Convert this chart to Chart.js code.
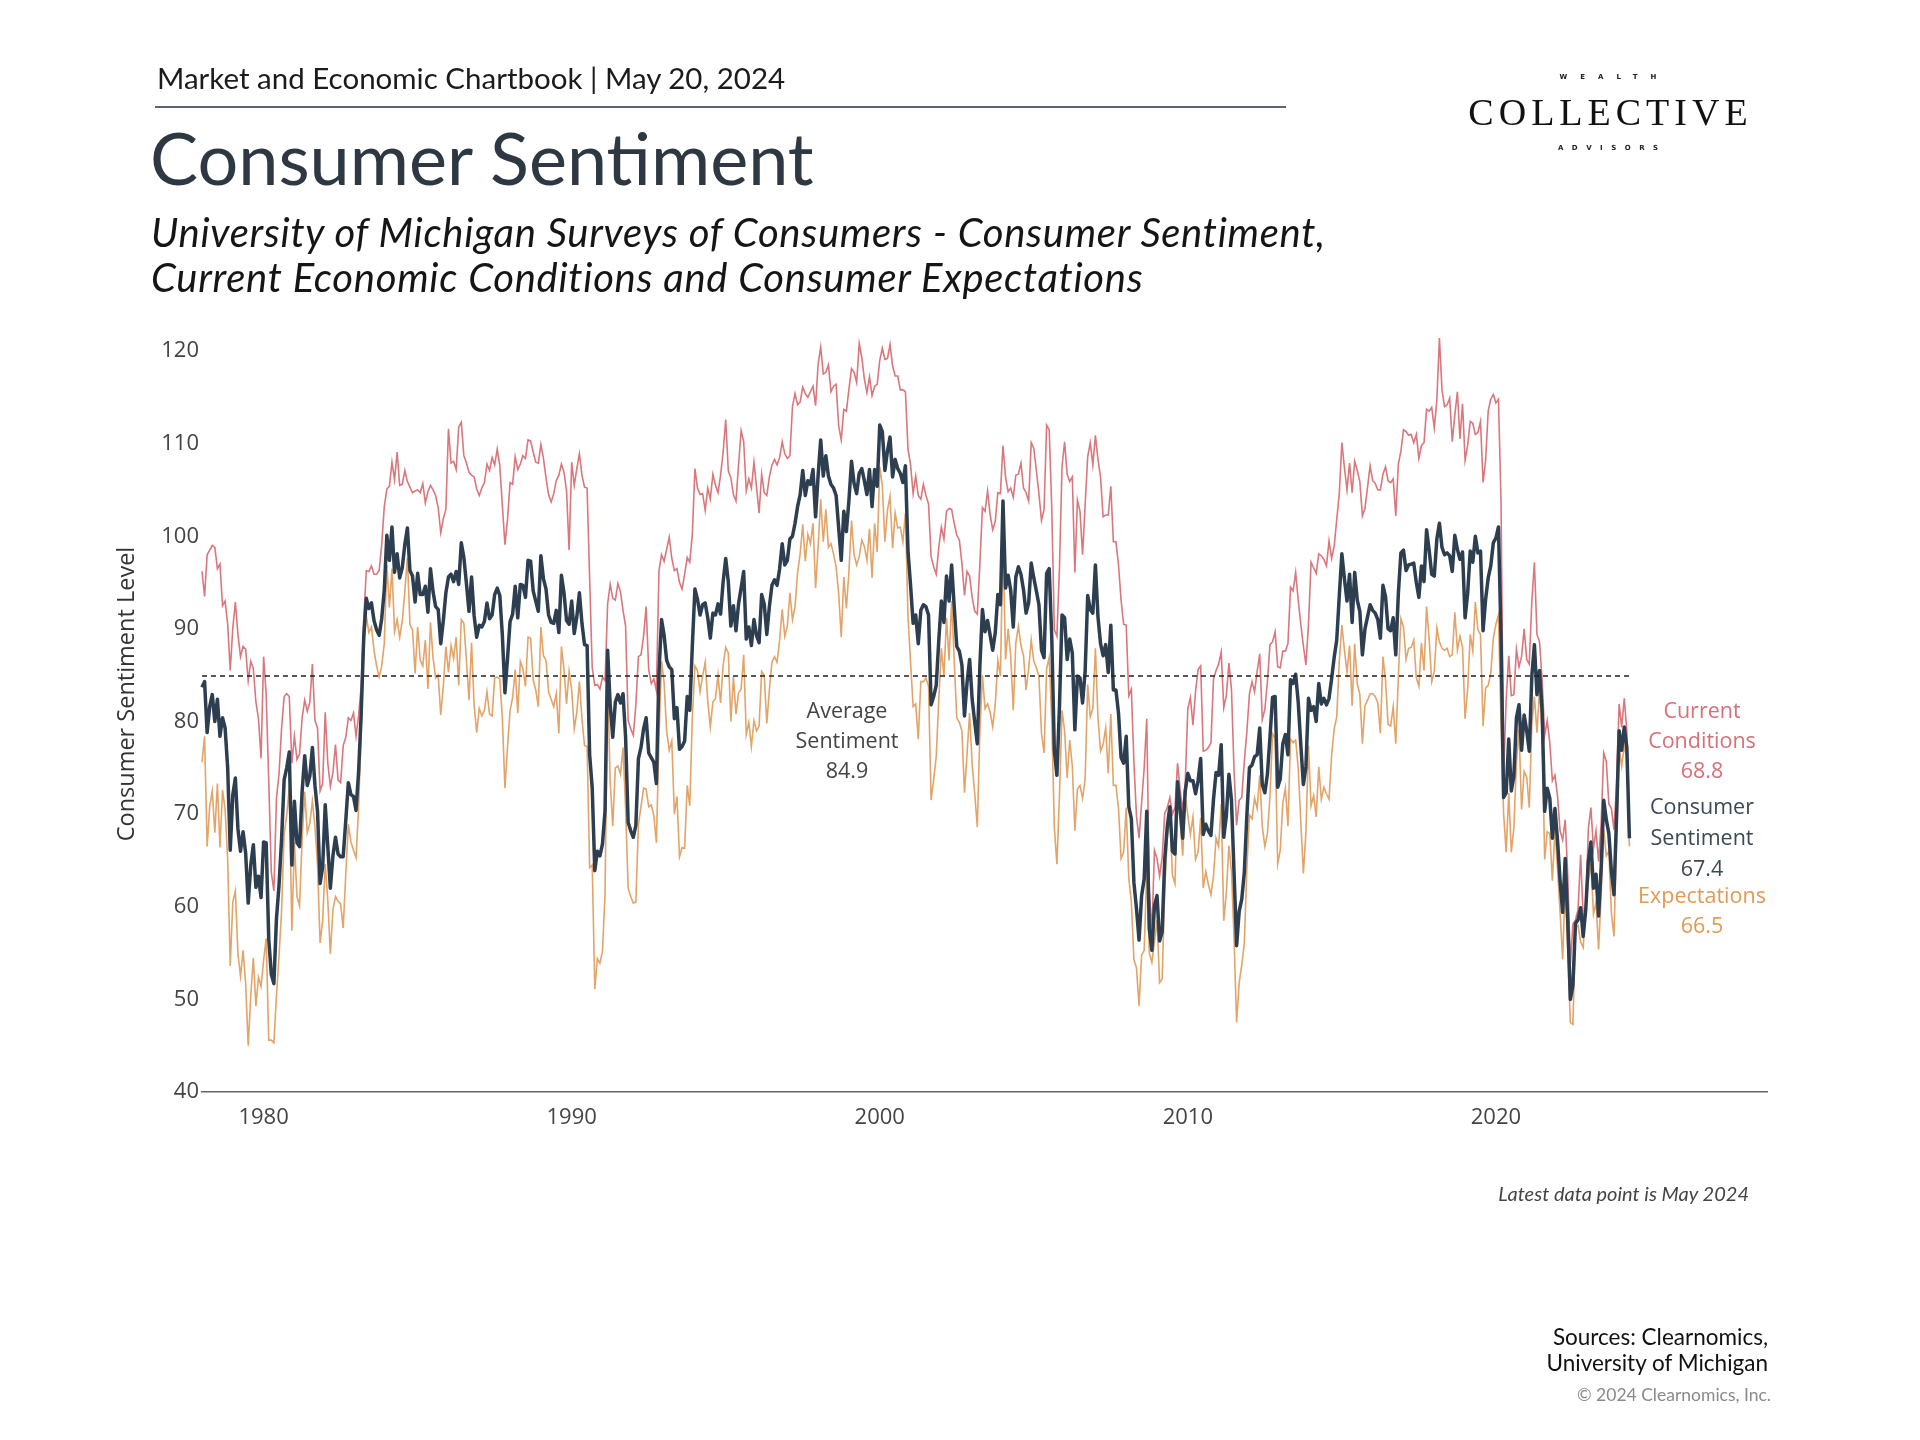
<!DOCTYPE html>
<html>

<head>
    <title>Consumer Sentiment</title>
    <script src="https://cdn.jsdelivr.net/npm/chart.js"></script>
    <style>
        body { margin: 0; width: 1920px; height: 1440px; background: #fff; position: relative; overflow: hidden; }
        canvas { position: absolute; left: 0; top: 0; }
        .t { position: absolute; white-space: nowrap; z-index: 2; }
        .sans { font-family: Lato, "Open Sans", sans-serif; }
        .lbl { font-family: "Open Sans", sans-serif; font-size: 21.5px; line-height: 30px; text-align: center; width: 220px; }
    </style>
</head>

<body>
    <div class="t sans" style="left:157px; top:60px; font-size:29.5px; line-height:35px; color:#1b1b1b;">Market and Economic Chartbook | May 20, 2024</div>
    <div class="t" style="left:155px; top:106px; width:1131px; height:2px; background:#5e666d;"></div>
    <div class="t sans" style="left:150px; top:117px; font-size:72px; line-height:80px; color:#2e3842;">Consumer Sentiment</div>
    <div class="t sans" style="left:151px; top:210px; font-size:40px; line-height:45px; letter-spacing:0.7px; font-style:italic; color:#151515;">University of Michigan Surveys of Consumers - Consumer Sentiment,<br>Current Economic Conditions and Consumer Expectations</div>

    <div class="t" style="left:1408px; top:72px; width:400px; text-align:center; font-family:'DejaVu Sans', sans-serif; font-weight:bold; font-size:7px; line-height:10px; letter-spacing:13px; padding-left:13px; box-sizing:border-box; color:#222;">WEALTH</div>
    <div class="t" style="left:1408px; top:92px; width:400px; text-align:center; font-family:'Liberation Serif', serif; font-size:38px; line-height:40px; letter-spacing:5px; padding-left:5px; box-sizing:border-box; color:#111;">COLLECTIVE</div>
    <div class="t" style="left:1408px; top:143px; width:400px; text-align:center; font-family:'DejaVu Sans', sans-serif; font-weight:bold; font-size:7px; line-height:10px; letter-spacing:8.5px; padding-left:8.5px; box-sizing:border-box; color:#222;">ADVISORS</div>

    <div class="t" style="left:-75px; top:680px; width:400px; text-align:center; font-family:'Open Sans', sans-serif; font-size:23.5px; line-height:28px; color:#333; transform:rotate(-90deg);">Consumer Sentiment Level</div>

    <div class="t lbl" style="left:737px; top:695px; color:#444;">Average<br>Sentiment<br>84.9</div>
    <div class="t lbl" style="left:1592px; top:695px; color:#d6707a;">Current<br>Conditions<br>68.8</div>
    <div class="t lbl" style="left:1592px; top:790px; line-height:31px; color:#3b4855;">Consumer<br>Sentiment<br>67.4</div>
    <div class="t lbl" style="left:1592px; top:880px; color:#e09a55;">Expectations<br>66.5</div>

    <div class="t sans" style="right:171px; top:1181px; font-size:20px; line-height:24px; font-style:italic; color:#444; text-align:right;">Latest data point is May 2024</div>
    <div class="t sans" style="right:152px; top:1324px; font-size:22.5px; line-height:26px; color:#111; text-align:right;">Sources: Clearnomics,<br>University of Michigan</div>
    <div class="t sans" style="right:149px; top:1385px; font-size:17.5px; line-height:20px; color:#8a8a8a; text-align:right;">© 2024 Clearnomics, Inc.</div>

    <canvas id="sentimentChart" width="1920" height="1440"></canvas>

    <script>
        // monthly values, January 1978 to May 2024
        const startYear = 1978;
        const avgSentiment = 84.9;
        const xTickYears = [1980, 1990, 2000, 2010, 2020];

        const sentiment = [
            83.7, 84.3, 78.8, 81.6, 82.9, 80.0, 82.4, 78.4, 80.4, 79.3, 75.0, 66.1, // 1978
            72.1, 73.9, 68.4, 66.0, 68.1, 65.8, 60.4, 64.5, 66.7, 62.1, 63.3, 61.0,
            67.0, 66.9, 56.5, 52.7, 51.7, 58.7, 62.3, 67.3, 73.7, 75.0, 76.7, 64.5, // 1980
            71.4, 66.9, 66.5, 72.4, 76.3, 73.1, 74.1, 77.2, 73.1, 70.3, 62.5, 64.3,
            71.0, 66.5, 62.0, 65.5, 67.5, 65.7, 65.4, 65.4, 69.3, 73.4, 72.1, 71.9,
            70.4, 74.6, 80.8, 89.1, 93.3, 92.2, 92.8, 90.9, 89.9, 89.3, 91.1, 94.2,
            100.1, 97.4, 101.0, 96.1, 98.1, 95.5, 96.6, 99.1, 100.9, 96.3, 95.7, 92.9,
            96.0, 93.7, 93.7, 94.6, 91.8, 96.5, 94.0, 92.4, 92.1, 88.4, 90.9, 93.9, // 1985
            95.6, 95.9, 95.1, 96.2, 94.8, 99.3, 97.7, 94.9, 91.9, 95.6, 91.4, 89.1,
            90.4, 90.2, 90.8, 92.8, 91.1, 91.5, 93.7, 94.4, 93.6, 89.3, 83.1, 86.8,
            90.8, 91.6, 94.6, 91.2, 94.8, 94.7, 93.4, 97.4, 97.3, 94.1, 93.0, 91.9,
            97.9, 95.4, 94.3, 91.5, 90.7, 90.6, 92.0, 89.6, 95.8, 93.9, 90.9, 90.5,
            93.0, 89.5, 91.3, 93.9, 90.6, 88.3, 88.2, 76.4, 72.8, 63.9, 66.0, 65.5, // 1990
            66.8, 70.4, 87.7, 81.8, 78.3, 82.1, 82.9, 82.0, 83.0, 78.3, 69.1, 68.2,
            67.5, 68.8, 76.0, 77.2, 79.2, 80.4, 76.6, 76.1, 75.6, 73.3, 85.3, 91.0,
            89.3, 86.6, 85.9, 85.6, 80.3, 81.5, 77.0, 77.3, 77.9, 82.7, 81.2, 88.2,
            94.3, 93.2, 91.5, 92.6, 92.8, 91.2, 89.0, 91.7, 91.5, 92.7, 91.6, 95.1,
            97.6, 95.1, 90.3, 92.5, 89.8, 92.7, 94.4, 96.2, 88.9, 90.2, 88.2, 91.0, // 1995
            89.3, 88.5, 93.7, 92.7, 89.4, 92.4, 94.7, 95.3, 94.7, 96.5, 99.2, 96.9,
            97.4, 99.7, 100.0, 101.4, 103.2, 104.5, 107.1, 104.4, 106.0, 105.6, 107.2, 102.1,
            106.6, 110.4, 106.5, 108.7, 106.5, 105.6, 105.2, 104.4, 100.9, 97.4, 102.7, 100.5,
            103.9, 108.1, 105.7, 104.6, 106.8, 107.3, 106.0, 104.5, 107.2, 103.2, 107.2, 105.4,
            112.0, 111.3, 107.1, 109.2, 110.7, 106.4, 108.3, 107.3, 106.8, 105.8, 107.6, 98.4, // 2000
            94.7, 90.6, 91.5, 88.4, 92.0, 92.6, 92.4, 91.5, 81.8, 82.7, 83.9, 88.8,
            93.0, 90.7, 95.7, 93.0, 96.9, 92.4, 88.1, 87.6, 86.1, 80.6, 84.2, 86.7,
            82.4, 79.9, 77.6, 86.0, 92.1, 89.7, 90.9, 89.3, 87.7, 89.6, 93.7, 92.6,
            103.8, 94.4, 95.8, 94.2, 90.2, 95.6, 96.7, 95.9, 94.2, 91.7, 92.8, 97.1,
            95.5, 94.1, 92.6, 87.7, 86.9, 96.0, 96.5, 89.1, 76.9, 74.2, 81.6, 91.5, // 2005
            91.2, 86.7, 88.9, 87.4, 79.1, 84.9, 84.7, 82.0, 85.4, 93.6, 92.1, 91.7,
            96.9, 91.3, 88.4, 87.1, 88.3, 85.3, 90.4, 83.4, 83.4, 80.9, 76.1, 75.5,
            78.4, 70.8, 69.5, 62.6, 59.8, 56.4, 61.2, 63.0, 70.3, 57.6, 55.3, 60.1,
            61.2, 56.3, 57.3, 65.1, 68.7, 70.8, 66.0, 65.7, 73.5, 70.6, 67.4, 72.5,
            74.4, 73.6, 73.6, 72.2, 73.6, 76.0, 67.8, 68.9, 68.2, 67.7, 71.6, 74.5, // 2010
            74.2, 77.5, 67.5, 69.8, 74.3, 71.5, 63.7, 55.8, 59.5, 60.8, 63.7, 69.9,
            75.0, 75.3, 76.2, 76.4, 79.3, 73.2, 72.3, 74.3, 78.3, 82.6, 82.7, 72.9,
            73.8, 77.6, 78.6, 76.4, 84.5, 84.1, 85.1, 82.1, 77.5, 73.2, 75.1, 82.5,
            81.2, 81.6, 80.0, 84.1, 81.9, 82.5, 81.8, 82.5, 84.6, 86.9, 88.8, 93.6,
            98.1, 95.4, 93.0, 95.9, 90.7, 96.1, 93.1, 91.9, 87.2, 90.0, 91.3, 92.6, // 2015
            92.0, 91.7, 91.0, 89.0, 94.7, 93.5, 90.0, 89.8, 91.2, 87.2, 93.8, 98.2,
            98.5, 96.3, 96.9, 97.0, 97.1, 95.0, 93.4, 96.8, 95.1, 100.7, 98.5, 95.9,
            95.7, 99.7, 101.4, 98.8, 98.0, 98.2, 97.9, 96.2, 100.1, 98.6, 97.5, 98.3,
            91.2, 93.8, 98.4, 97.2, 100.0, 98.2, 98.4, 89.8, 93.2, 95.5, 96.8, 99.3,
            99.8, 101.0, 89.1, 71.8, 72.3, 78.1, 72.5, 74.1, 80.4, 81.8, 76.9, 80.7, // 2020
            79.0, 76.8, 84.9, 88.3, 82.9, 85.5, 81.2, 70.3, 72.8, 71.7, 67.4, 70.6,
            67.2, 62.8, 59.4, 65.2, 58.4, 50.0, 51.5, 58.2, 58.6, 59.9, 56.8, 59.7,
            64.9, 67.0, 62.0, 63.5, 59.0, 64.2, 71.5, 69.4, 67.9, 63.8, 61.3, 69.7,
            79.0, 76.9, 79.4, 77.2, 67.4 // 2024
        ];

        const currentConditions = [
            96.2, 93.5, 98.0, 98.5, 99.0, 98.8, 96.5, 97.0, 92.5, 93.0, 90.5, 85.5, // 1978
            90.1, 92.9, 89.4, 87.0, 88.1, 87.8, 84.4, 86.5, 85.7, 82.1, 80.3, 76.0,
            87.0, 82.9, 73.5, 63.7, 61.7, 71.7, 74.3, 79.3, 82.7, 83.0, 82.7, 75.5, // 1980
            78.4, 75.9, 76.5, 80.4, 82.3, 81.1, 82.1, 86.2, 80.1, 79.3, 72.5, 73.3,
            81.0, 75.5, 73.0, 74.5, 77.5, 73.7, 73.4, 77.4, 78.3, 80.4, 80.1, 80.9,
            78.4, 80.6, 83.8, 91.1, 96.3, 96.2, 96.8, 95.9, 95.9, 96.3, 99.1, 103.2,
            105.1, 105.4, 108.0, 106.1, 109.1, 105.5, 105.6, 107.1, 105.9, 105.3, 104.7, 104.9,
            105.0, 104.7, 105.7, 103.6, 104.8, 105.5, 105.0, 104.4, 103.1, 100.4, 101.9, 102.9, // 1985
            111.6, 107.9, 108.1, 107.2, 111.8, 112.3, 108.7, 107.9, 106.9, 106.6, 106.4, 105.1,
            104.4, 105.2, 105.8, 107.8, 107.1, 108.5, 107.7, 109.4, 107.6, 103.3, 99.1, 101.8,
            105.8, 105.6, 108.6, 107.2, 107.8, 108.7, 108.4, 110.4, 110.3, 109.1, 108.0, 107.9,
            109.9, 108.4, 106.3, 104.5, 103.7, 104.6, 106.0, 106.6, 107.8, 106.9, 104.9, 98.5,
            108.0, 105.5, 107.3, 108.9, 106.6, 105.3, 105.2, 95.4, 85.8, 83.9, 84.0, 83.5, // 1990
            84.8, 84.4, 92.7, 94.8, 93.3, 93.1, 94.9, 94.0, 92.0, 90.3, 80.1, 79.2,
            78.5, 81.8, 87.0, 87.2, 89.2, 92.4, 85.6, 84.1, 84.6, 83.3, 96.3, 98.0,
            97.3, 98.6, 99.9, 97.6, 96.3, 96.5, 95.0, 94.3, 95.9, 97.7, 97.2, 100.2,
            107.3, 105.2, 104.5, 104.6, 102.8, 105.2, 104.0, 106.7, 105.5, 104.7, 106.6, 109.1,
            112.6, 107.1, 106.3, 104.5, 103.8, 107.7, 111.4, 110.2, 104.9, 106.2, 105.2, 108.0, // 1995
            105.3, 102.5, 106.7, 104.7, 104.4, 106.4, 107.7, 108.3, 107.7, 108.5, 110.2, 108.9,
            108.4, 108.7, 114.0, 115.4, 114.2, 114.5, 116.1, 115.4, 115.0, 115.6, 116.2, 114.1,
            118.6, 120.4, 117.5, 117.7, 118.5, 115.6, 116.2, 116.4, 111.9, 110.4, 113.7, 113.5,
            115.9, 118.1, 117.7, 116.6, 120.8, 119.3, 117.0, 115.5, 117.2, 115.2, 116.2, 116.4,
            119.0, 120.3, 119.1, 119.2, 120.7, 118.4, 117.3, 117.3, 115.8, 115.8, 115.6, 109.4, // 2000
            107.7, 104.6, 106.5, 104.4, 104.0, 105.6, 104.4, 103.5, 97.8, 96.7, 95.9, 98.8,
            101.0, 99.7, 102.7, 103.0, 102.9, 101.4, 100.1, 99.6, 97.1, 93.6, 96.2, 95.7,
            93.4, 91.9, 91.6, 97.0, 103.1, 102.7, 104.9, 102.3, 100.7, 101.6, 104.7, 104.6,
            109.8, 106.4, 104.8, 105.2, 104.2, 106.6, 106.7, 107.9, 105.2, 104.7, 103.8, 110.1,
            109.5, 107.1, 104.6, 101.7, 102.9, 112.0, 111.5, 103.1, 89.9, 89.2, 96.6, 107.5, // 2005
            110.2, 106.7, 105.9, 106.4, 96.1, 103.9, 102.7, 98.0, 103.4, 108.6, 110.1, 107.7,
            110.9, 108.3, 106.4, 102.1, 102.3, 102.3, 105.4, 99.4, 99.4, 96.9, 93.1, 90.5,
            90.4, 82.8, 83.5, 75.6, 69.8, 67.4, 71.2, 75.0, 80.3, 61.6, 57.3, 66.1,
            65.2, 63.3, 65.3, 70.1, 70.7, 71.8, 70.0, 70.7, 75.5, 72.6, 70.4, 73.5,
            81.4, 82.6, 79.6, 83.2, 85.6, 86.0, 76.8, 76.9, 77.2, 77.7, 84.6, 85.5, // 2010
            86.2, 87.5, 81.5, 82.8, 86.3, 83.5, 74.7, 68.8, 71.5, 71.8, 75.7, 78.9,
            83.0, 84.3, 83.2, 85.4, 87.3, 80.2, 81.3, 84.3, 88.3, 88.6, 89.7, 85.9,
            85.8, 87.6, 87.6, 88.4, 94.5, 94.1, 96.1, 93.1, 90.5, 88.2, 86.1, 90.5,
            97.2, 96.6, 96.0, 98.1, 97.9, 97.5, 96.8, 99.5, 97.6, 98.9, 101.8, 104.6,
            110.1, 107.4, 105.0, 107.9, 104.7, 108.1, 107.1, 105.9, 102.2, 103.0, 105.3, 107.6, // 2015
            106.0, 105.7, 105.0, 105.0, 106.7, 107.5, 106.0, 105.8, 106.2, 102.2, 107.8, 109.2,
            111.5, 111.3, 110.9, 111.0, 110.1, 111.0, 108.4, 109.8, 110.1, 113.7, 113.5, 113.9,
            111.7, 114.7, 121.4, 115.8, 114.0, 114.2, 114.9, 110.2, 113.1, 115.6, 110.5, 114.3,
            108.2, 109.8, 112.4, 112.2, 111.0, 111.2, 112.4, 105.8, 108.2, 113.5, 114.8, 115.3,
            114.4, 114.8, 103.7, 74.3, 82.3, 87.1, 82.8, 82.9, 87.8, 85.9, 87.0, 90.0, // 2020
            86.7, 86.2, 93.0, 97.2, 89.4, 88.6, 84.5, 78.5, 80.1, 77.7, 73.6, 74.2,
            72.0, 68.2, 67.2, 69.4, 63.3, 53.8, 58.1, 58.6, 59.7, 65.6, 58.8, 59.4,
            68.4, 70.7, 66.3, 68.2, 64.9, 69.0, 76.6, 75.7, 71.1, 70.6, 68.3, 73.3,
            81.9, 79.4, 82.5, 79.0, 68.8 // 2024
        ];

        const expectations = [
            75.6, 78.4, 66.5, 70.8, 72.5, 68.0, 73.3, 66.4, 72.6, 70.5, 65.1, 53.6, // 1978
            60.5, 61.7, 54.9, 52.5, 55.3, 51.7, 45.0, 50.4, 54.5, 49.3, 52.4, 51.4,
            54.2, 56.6, 45.6, 45.6, 45.3, 50.4, 54.6, 59.6, 67.9, 69.9, 72.8, 57.4, // 1980
            66.9, 61.1, 60.1, 67.3, 72.4, 68.0, 69.0, 71.4, 68.6, 64.5, 56.1, 58.5,
            64.6, 60.7, 54.9, 59.7, 61.1, 60.6, 60.3, 57.7, 63.5, 68.9, 67.0, 66.1,
            65.3, 70.7, 78.9, 87.8, 91.4, 89.6, 90.2, 87.7, 86.0, 84.8, 86.0, 88.4,
            96.9, 92.3, 96.5, 89.7, 91.0, 89.1, 90.8, 94.0, 97.7, 90.5, 89.9, 85.2,
            90.2, 86.6, 86.0, 88.8, 83.5, 90.7, 86.9, 84.7, 85.0, 80.7, 83.8, 88.1, // 1985
            85.3, 88.2, 86.8, 89.1, 83.9, 91.0, 90.6, 86.6, 82.3, 88.5, 81.8, 78.8,
            81.4, 80.6, 81.2, 83.2, 80.8, 80.6, 84.7, 84.8, 84.6, 80.3, 72.8, 77.2,
            81.2, 82.6, 85.6, 80.9, 86.5, 85.7, 83.8, 89.1, 89.0, 84.5, 83.4, 81.6,
            90.2, 87.1, 86.6, 83.2, 82.4, 81.6, 83.0, 78.7, 88.1, 85.6, 81.9, 85.4,
            83.4, 79.2, 81.0, 84.3, 80.3, 77.4, 77.3, 64.2, 64.5, 51.1, 54.4, 53.9, // 1990
            55.2, 61.4, 84.5, 73.5, 68.7, 75.0, 75.2, 74.3, 77.2, 70.6, 62.0, 61.1,
            60.4, 60.5, 68.9, 70.8, 72.8, 72.7, 70.8, 71.0, 69.8, 66.9, 78.2, 86.5,
            84.2, 78.9, 76.9, 77.9, 70.0, 71.9, 65.4, 66.4, 66.3, 73.1, 70.9, 80.5,
            86.0, 85.5, 83.2, 84.9, 86.4, 82.2, 79.4, 82.1, 82.5, 85.0, 82.0, 86.1,
            88.0, 87.4, 80.0, 84.8, 80.8, 83.1, 83.5, 87.2, 78.6, 79.9, 77.3, 80.1, // 1995
            79.0, 79.5, 85.4, 85.0, 79.8, 83.4, 86.4, 87.0, 86.4, 88.8, 92.1, 89.2,
            90.3, 93.9, 91.0, 92.4, 96.1, 98.1, 101.3, 97.3, 100.2, 99.2, 101.4, 94.4,
            98.9, 104.0, 99.4, 102.9, 98.8, 99.2, 98.1, 96.7, 93.8, 89.1, 95.6, 92.2,
            96.2, 101.7, 98.0, 96.9, 97.8, 99.6, 98.9, 97.4, 100.8, 95.5, 101.4, 98.3,
            107.5, 105.5, 99.4, 102.8, 104.3, 98.7, 102.5, 100.9, 101.0, 99.4, 102.5, 91.3, // 2000
            86.4, 81.6, 81.9, 78.1, 84.3, 84.3, 84.7, 83.8, 71.5, 73.7, 76.2, 82.4,
            87.9, 84.9, 91.2, 86.6, 93.0, 86.6, 80.4, 79.9, 79.0, 72.3, 76.5, 80.9,
            75.3, 72.2, 68.6, 78.9, 85.0, 81.4, 81.9, 81.0, 79.4, 81.9, 86.6, 84.9,
            99.9, 86.7, 90.0, 87.1, 81.2, 88.5, 90.3, 88.2, 87.1, 83.4, 85.7, 88.8,
            86.5, 85.8, 84.9, 78.7, 76.6, 85.7, 86.9, 80.1, 68.6, 64.6, 72.0, 81.2, // 2005
            79.0, 73.9, 78.0, 75.2, 68.2, 72.7, 73.1, 71.7, 73.8, 84.0, 80.5, 81.4,
            87.9, 80.4, 76.8, 77.5, 79.3, 74.4, 80.8, 73.1, 73.1, 70.6, 65.2, 65.9,
            70.7, 63.1, 60.5, 54.3, 53.4, 49.3, 54.8, 55.3, 63.9, 55.0, 54.0, 56.2,
            58.6, 51.8, 52.2, 61.9, 67.4, 70.2, 63.4, 62.5, 72.2, 69.3, 65.5, 71.9,
            69.9, 67.8, 69.7, 65.1, 65.9, 69.6, 62.0, 63.8, 62.4, 61.3, 63.3, 67.4, // 2010
            66.5, 71.1, 58.5, 61.5, 66.6, 63.8, 56.6, 47.5, 51.8, 53.7, 56.0, 64.1,
            69.9, 69.5, 71.7, 70.6, 74.2, 68.7, 66.5, 67.9, 71.9, 78.7, 78.2, 64.6,
            66.1, 71.2, 72.8, 68.7, 78.1, 77.7, 78.0, 75.0, 69.2, 63.6, 68.0, 77.4,
            70.9, 72.0, 69.7, 75.1, 71.6, 72.9, 72.2, 71.6, 76.3, 79.2, 80.5, 86.5,
            90.4, 87.7, 85.3, 88.2, 81.7, 88.4, 84.1, 82.9, 77.6, 81.7, 82.3, 83.0, // 2015
            83.0, 82.7, 82.0, 78.7, 87.0, 84.5, 79.7, 79.5, 81.6, 77.6, 84.8, 91.1,
            90.2, 86.7, 87.9, 88.0, 88.8, 84.7, 83.8, 88.5, 85.5, 92.4, 88.9, 84.3,
            85.4, 90.1, 88.6, 87.9, 87.7, 87.9, 87.0, 87.2, 91.8, 87.7, 89.2, 88.0,
            80.3, 83.5, 89.4, 87.6, 92.9, 89.9, 89.4, 79.5, 83.6, 83.9, 85.2, 89.0,
            90.5, 91.5, 79.7, 70.1, 65.9, 72.3, 65.9, 68.5, 75.6, 79.2, 70.5, 74.6, // 2020
            74.0, 70.7, 79.7, 82.7, 78.8, 83.5, 79.0, 65.1, 68.1, 67.9, 62.8, 68.3,
            64.1, 59.4, 54.3, 62.5, 55.2, 47.5, 47.3, 57.9, 58.0, 56.2, 55.6, 59.9,
            62.7, 64.7, 59.2, 60.5, 55.4, 61.3, 68.3, 65.5, 66.0, 59.3, 56.8, 67.4,
            77.1, 75.2, 77.4, 76.0, 66.5 // 2024
        ];

        const toPoints = arr => arr.map((v, i) => ({ x: startYear + i / 12, y: v }));
        const lastX = startYear + (sentiment.length - 1) / 12;

        const tickFont = { family: "'Open Sans', sans-serif", size: 22 };

        const ctx = document.getElementById('sentimentChart').getContext('2d');
        const chart = new Chart(ctx, {
            type: 'line',
            data: {
                datasets: [{
                    label: 'Average Sentiment',
                    data: [{ x: startYear, y: avgSentiment }, { x: lastX, y: avgSentiment }],
                    borderColor: '#222',
                    borderWidth: 1.5,
                    borderDash: [5, 4],
                    order: 0
                }, {
                    label: 'Consumer Sentiment',
                    data: toPoints(sentiment),
                    borderColor: '#2c3e50',
                    borderWidth: 3.5,
                    borderJoinStyle: 'round',
                    clip: false,
                    order: 1
                }, {
                    label: 'Current Conditions',
                    data: toPoints(currentConditions),
                    borderColor: '#d9777d',
                    borderWidth: 1.6,
                    clip: false,
                    order: 2
                }, {
                    label: 'Expectations',
                    data: toPoints(expectations),
                    borderColor: '#e2a468',
                    borderWidth: 1.6,
                    clip: false,
                    order: 3
                }]
            },
            options: {
                responsive: false,
                animation: false,
                devicePixelRatio: 1,
                elements: { point: { radius: 0 }, line: { tension: 0 } },
                layout: { padding: { left: 108, right: 153, top: 351, bottom: 0 } },
                plugins: { legend: { display: false }, tooltip: { enabled: false } },
                scales: {
                    x: {
                        type: 'linear',
                        min: startYear,
                        max: 2028.8,
                        afterBuildTicks: scale => { scale.ticks = xTickYears.map(v => ({ value: v })); },
                        afterFit: scale => { scale.height = 348; },
                        grid: { display: false, drawTicks: false },
                        border: { display: true, color: '#666', width: 1.5 },
                        ticks: { color: '#444', font: tickFont, padding: 13, maxRotation: 0, callback: v => String(v) }
                    },
                    y: {
                        min: 40,
                        max: 120,
                        afterFit: scale => { scale.width = 94; },
                        grid: { display: false, drawTicks: false },
                        border: { display: false },
                        ticks: { stepSize: 10, color: '#444', font: tickFont, padding: 3 }
                    }
                }
            }
        });
    </script>
</body>

</html>
